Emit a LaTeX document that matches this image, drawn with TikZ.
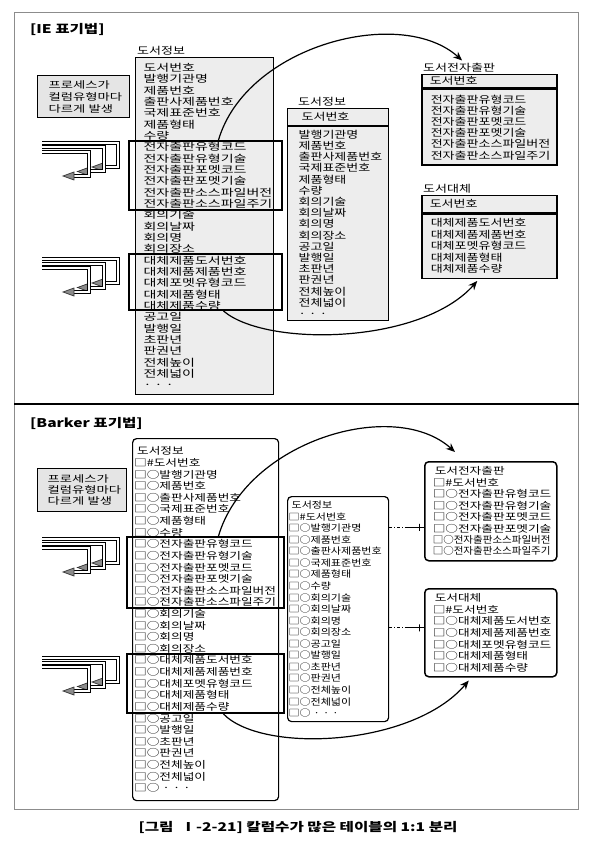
\documentclass[tikz,border=0pt]{standalone}
\usepackage{graphicx}
\usepackage{fontspec}
\setmainfont{Noto Sans CJK KR}[FakeStretch=1.3]
\newfontfamily\wideface{Noto Sans CJK KR}[FakeStretch=1.4]
\newfontfamily\narrowface{Noto Sans CJK KR}[FakeStretch=1.2]
\usetikzlibrary{arrows.meta,positioning,calc}
\newcommand{\narrowrow}[1]{\scalebox{0.83}[1]{#1}}

\begin{document}
\begin{tikzpicture}[
        x=1pt, y=-1pt,
        font=\fontsize{10}{11.4}\selectfont,
        >={Stealth[length=9pt, width=7.5pt]},
        % frames and titles
        panel/.style={rectangle, draw=black!45, line width=0.8pt, anchor=north west, inner sep=0pt},
        notation/.style={anchor=west, inner sep=0pt, font=\fontsize{12}{14}\selectfont\bfseries},
        figcap/.style={inner sep=0pt, font=\fontsize{12}{14}\selectfont\bfseries},
        % table boxes
        iebox/.style={rectangle, draw=black, line width=1pt, fill=black!7, anchor=north west, align=left, inner sep=0pt},
        bkbox/.style={iebox, fill=white, rounded corners=4pt},
        tname/.style={anchor=south west, inner sep=0pt},
        hilite/.style={rectangle, draw=black, line width=2pt, anchor=north west, inner sep=0pt},
        procbox/.style={rectangle, draw=black, line width=1.3pt, fill=black!10, anchor=north west, align=left, inner sep=0pt, font=\wideface\fontsize{9.5}{11.8}\selectfont},
        % connectors
        linkarrow/.style={->, line width=1.2pt},
        optline/.style={line width=0.8pt, dash pattern=on 3pt off 2pt on 1pt off 2pt},
        mandline/.style={line width=0.8pt},
        tickbar/.style={draw, line width=0.8pt, inner sep=0pt, minimum width=0pt, minimum height=7pt},
        stairline/.style={double=white, double distance=2pt, line width=1pt},
        stairhead/.style={fill=black!45, draw=black!80, line width=0.7pt},
        stairs/.pic={
            \foreach \k [evaluate=\k as \dx using 14.5*\k, evaluate=\k as \dy using 4.5*\k] in {0,1,2} {
                \draw[stairline] (0,\dy) -| (76-\dx,24+\dy) -- (61-\dx,24+\dy);
                \filldraw[stairhead] (61-\dx,20+\dy) -- (50-\dx,24+\dy) -- (61-\dx,28+\dy) -- cycle;
            }
        }
    ]
    \path[use as bounding box, fill=white] (0,0) rectangle (593,842);

    % IE notation
    \node[panel, minimum width=564pt, minimum height=392pt] (iepanel) at (14,12) {};
    \node[notation] (ietitle) at (30,29) {[IE 표기법]};
    \node[procbox, minimum width=92pt, minimum height=42pt, text width=70pt] (ieproc) at (37,75) {프로세스가\\컬럼유형마다\\다르게 발생};

    \node[iebox, minimum width=138pt, minimum height=337pt, text width=122pt, font=\wideface\fontsize{10}{11.33}\selectfont] (ieinfo) at (135,57) {도서번호\\발행기관명\\제품번호\\출판사제품번호\\국제표준번호\\제품형태\\수량\\전자출판유형코드\\전자출판유형기술\\전자출판포멧코드\\전자출판포멧기술\\전자출판소스파일버전\\전자출판소스파일주기\\회의기술\\회의날짜\\회의명\\회의장소\\대체제품도서번호\\대체제품제품번호\\대체포멧유형코드\\대체제품형태\\대체제품수량\\공고일\\발행일\\초판년\\판권년\\전체높이\\전체넓이\\· · ·};
    \node[tname] (ieinfolbl) at ([xshift=2pt, yshift=2pt]ieinfo.north west) {도서정보};

    \node[iebox, line width=1.2pt, minimum width=101pt, minimum height=17pt, text width=73pt] (iemidhd) at (287,108) {도서번호};
    \node[iebox, line width=1.2pt, minimum width=101pt, minimum height=194pt, text width=79pt, font=\fontsize{10}{11.2}\selectfont, below=0pt of iemidhd] (iemid) {발행기관명\\제품번호\\출판사제품번호\\국제표준번호\\제품형태\\수량\\회의기술\\회의날짜\\회의명\\회의장소\\공고일\\발행일\\초판년\\판권년\\전체높이\\전체넓이\\· · ·};
    \node[tname] (iemidlbl) at ([xshift=11pt, yshift=2pt]iemidhd.north west) {도서정보};

    \node[iebox, line width=1.5pt, minimum width=135pt, minimum height=13pt, text width=119pt] (iepubhd) at (421,74) {도서번호};
    \node[iebox, line width=1.5pt, minimum width=135pt, minimum height=76pt, text width=117pt, font=\fontsize{10}{11.2}\selectfont, below=0pt of iepubhd] (iepub) {전자출판유형코드\\전자출판유형기술\\전자출판포멧코드\\전자출판포멧기술\\전자출판소스파일버전\\전자출판소스파일주기};
    \node[tname] (iepublbl) at ([xshift=2pt, yshift=2pt]iepubhd.north west) {도서전자출판};

    \node[iebox, line width=1.5pt, minimum width=135pt, minimum height=17pt, text width=119pt] (iesubhd) at (421,195) {도서번호};
    \node[iebox, line width=1.5pt, minimum width=135pt, minimum height=64pt, text width=117pt, font=\fontsize{10}{11.5}\selectfont, below=0pt of iesubhd] (iesub) {대체제품도서번호\\대체제품제품번호\\대체포멧유형코드\\대체제품형태\\대체제품수량};
    \node[tname] (iesublbl) at ([xshift=2pt, yshift=1.5pt]iesubhd.north west) {도서대체};

    \node[hilite, minimum width=153pt, minimum height=69pt] (ieA) at (128,140) {};
    \node[hilite, minimum width=153pt, minimum height=56pt] (ieB) at (128,253) {};
    \pic (ieturnA) at (42,143) {stairs};
    \pic (ieturnB) at (42,259) {stairs};

    \draw[linkarrow] ([xshift=13pt]ieA.north) .. controls +(28,-95) and +(-61,-55) .. ([xshift=3pt, yshift=2pt]iepublbl.north);
    \draw[linkarrow] ([xshift=18pt]ieB.south) .. controls +(42,36) and +(-57,64) .. ([xshift=-12pt, yshift=-2pt]iesub.south);

    % Barker notation
    \node[panel, minimum width=564pt, minimum height=405pt] (bkpanel) at (14,404) {};
    \draw[line width=1.2pt] (bkpanel.north west) -- (bkpanel.north east);
    \node[notation] (bktitle) at (30,423) {[Barker 표기법]};
    \node[procbox, minimum width=89pt, minimum height=43pt, text width=69pt, font=\wideface\fontsize{9.5}{11}\selectfont] (bkproc) at (37,468) {프로세스가\\컬럼유형마다\\다르게 발생};

    \node[bkbox, line width=1.2pt, minimum width=146pt, minimum height=362pt, text width=143pt, font=\fontsize{9.75}{11.62}\selectfont] (bkinfo) at (132,438) {\hspace{3pt}도서정보\\□\#도서번호\\□○발행기관명\\□○제품번호\\□○출판사제품번호\\□○국제표준번호\\□○제품형태\\□○수량\\□○전자출판유형코드\\□○전자출판유형기술\\□○전자출판포멧코드\\□○전자출판포멧기술\\□○전자출판소스파일버전\\□○전자출판소스파일주기\\□○회의기술\\□○회의날짜\\□○회의명\\□○회의장소\\□○대체제품도서번호\\□○대체제품제품번호\\□○대체포멧유형코드\\□○대체제품형태\\□○대체제품수량\\□○공고일\\□○발행일\\□○초판년\\□○판권년\\□○전체높이\\□○전체넓이\\□○ · · ·};

    \node[bkbox, line width=1.2pt, minimum width=101pt, minimum height=225pt, text width=99pt, font=\narrowface\fontsize{9.2}{11.56}\selectfont] (bkmid) at (287,496) {\hspace{3pt}도서정보\\□\#도서번호\\□○발행기관명\\□○제품번호\\□○출판사제품번호\\□○국제표준번호\\□○제품형태\\□○수량\\□○회의기술\\□○회의날짜\\□○회의명\\□○회의장소\\□○공고일\\□○발행일\\□○초판년\\□○판권년\\□○전체높이\\□○전체넓이\\□○ · · ·};

    \node[bkbox, line width=1.5pt, minimum width=132pt, minimum height=99pt, text width=116pt, font=\fontsize{9.75}{11.43}\selectfont] (bkpub) at (424,461) {\hspace{2pt}도서전자출판\\□\#도서번호\\□○전자출판유형코드\\□○전자출판유형기술\\□○전자출판포멧코드\\□○전자출판포멧기술\\\narrowrow{□○전자출판소스파일버전}\\\narrowrow{□○전자출판소스파일주기}};

    \node[bkbox, line width=1.5pt, minimum width=132pt, minimum height=88pt, text width=116pt, font=\fontsize{9.75}{11.67}\selectfont] (bksub) at (424,588) {\hspace{2pt}도서대체\\□\#도서번호\\□○대체제품도서번호\\□○대체제품제품번호\\□○대체포멧유형코드\\□○대체제품형태\\□○대체제품수량};

    \node[hilite, minimum width=157pt, minimum height=71pt] (bkA) at (126,536) {};
    \node[hilite, minimum width=157pt, minimum height=59pt] (bkB) at (126,653) {};
    \pic (bkturnA) at (42,539) {stairs};
    \pic (bkturnB) at (42,658) {stairs};

    \coordinate (pubin) at ([yshift=-16pt]bkpub.west);
    \coordinate (subin) at ([yshift=5pt]bksub.west);
    \draw[optline] (bkmid.east |- pubin) -- ($(bkmid.east |- pubin)!0.44!(pubin)$) coordinate (pubhalf);
    \draw[mandline] (pubhalf) -- node[tickbar, pos=0.75] (pubtick) {} (pubin);
    \draw[optline] (bkmid.east |- subin) -- ($(bkmid.east |- subin)!0.44!(subin)$) coordinate (subhalf);
    \draw[mandline] (subhalf) -- node[tickbar, pos=0.75] (subtick) {} (subin);

    \draw[linkarrow] ([xshift=13pt]bkA.north) .. controls +(28,-95) and +(-61,-55) .. ([xshift=31pt, yshift=9pt]bkpub.north west);
    \draw[linkarrow] ([xshift=18pt]bkB.south) .. controls +(39,40) and +(-56,66) .. ([xshift=-22pt, yshift=-3pt]bksub.south);

    \node[figcap] (cap) at (298,827) {[그림\ \ Ⅰ-2-21] 칼럼수가 많은 테이블의 1:1 분리};
\end{tikzpicture}
\end{document}
